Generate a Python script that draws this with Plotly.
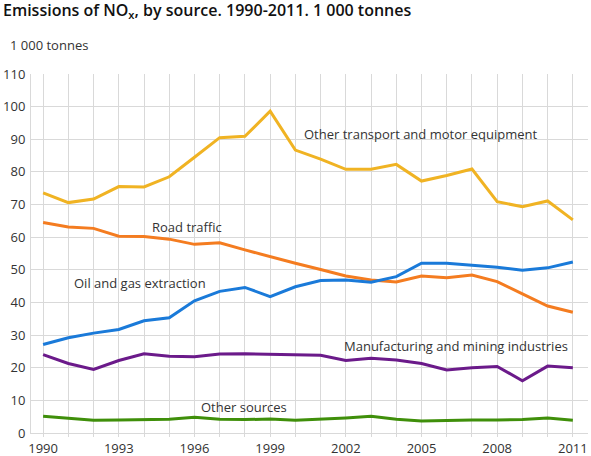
import plotly.graph_objects as go

years = list(range(1990, 2012))
other_transport = [73.6, 70.6, 71.7, 75.5, 75.4, 78.5, 84.5, 90.5, 90.9, 98.6, 86.7, 83.9,
                   80.8, 80.8, 82.3, 77.2, 78.9, 80.9, 70.9, 69.3, 71.1, 65.3]
road_traffic = [64.5, 63.1, 62.7, 60.3, 60.2, 59.4, 57.8, 58.3, 56.1, 54.0, 52.0, 50.1,
                48.1, 46.9, 46.3, 48.1, 47.6, 48.4, 46.4, 42.6, 38.9, 37.0]
oil_gas = [27.1, 29.2, 30.6, 31.7, 34.4, 35.3, 40.5, 43.4, 44.6, 41.8, 44.8, 46.7,
           46.9, 46.2, 47.9, 52.0, 52.0, 51.4, 50.8, 49.9, 50.6, 52.4]
manufacturing = [24.0, 21.3, 19.5, 22.2, 24.3, 23.5, 23.4, 24.2, 24.3, 24.2, 23.9, 23.8,
                 22.2, 22.9, 22.4, 21.3, 19.3, 20.0, 20.4, 16.0, 20.5, 20.0]
other_sources = [5.1, 4.5, 3.9, 4.0, 4.1, 4.2, 4.8, 4.2, 4.1, 4.3, 3.9, 4.2,
                 4.6, 5.1, 4.2, 3.7, 3.9, 4.0, 4.0, 4.1, 4.6, 3.9]

series_names = ["Other transport and motor equipment", "Road traffic", "Oil and gas extraction",
                "Manufacturing and mining industries", "Other sources"]
series_values = [other_transport, road_traffic, oil_gas, manufacturing, other_sources]
colors = ["#f0b323", "#f47c20", "#1a7ad9", "#6b1a8a", "#3f8f0a"]

label_pos = [(2000.26, 91.6), (1994.24, 63.2), (1991.14, 45.9), (2001.83, 26.7), (1996.18, 8.1)]

tick_years = years
tick_text = [str(y) if (y - 1990) % 3 == 0 else " " for y in years]
y_ticks = list(range(0, 111, 10))

fig = go.Figure()
for name, vals, col in zip(series_names, series_values, colors):
    fig.add_trace(go.Scatter(x=years, y=vals, mode="lines", name=name,
                             line=dict(color=col, width=3)))

for name, (lx, ly) in zip(series_names, label_pos):
    fig.add_annotation(x=lx, y=ly, text=name, showarrow=False, xanchor="left", yanchor="middle",
                       font=dict(family="Open Sans", size=13, color="#333333"))

fig.update_layout(
    width=591, height=456,
    margin=dict(l=31, r=3, t=74, b=23),
    paper_bgcolor="white", plot_bgcolor="white",
    showlegend=False,
    font=dict(family="Open Sans", size=13, color="#333333"),
    title=dict(text="Emissions of NO<sub>x</sub>, by source. 1990-2011. 1 000 tonnes",
               xref="container", yref="container",
               x=0.005, xanchor="left", y=0.977, yanchor="middle",
               font=dict(family="Open Sans", size=16, color="#111111", weight=600)),
    xaxis=dict(range=[1989.52, 2011.6], tickvals=tick_years, ticktext=tick_text,
               showgrid=True, gridcolor="#d9d9d9", gridwidth=1, zeroline=False,
               showline=True, linecolor="#d9d9d9", ticks="outside", ticklen=3, tickcolor="#d9d9d9",
               tickfont=dict(size=13, color="#333333"), automargin=False),
    yaxis=dict(range=[0, 110], tickvals=y_ticks, showgrid=True, gridcolor="#d9d9d9", gridwidth=1,
               zeroline=False, showline=True, linecolor="#d9d9d9",
               tickfont=dict(size=13, color="#333333"), ticklabelstandoff=2, automargin=False),
)
fig.add_annotation(xref="paper", yref="paper", x=-0.0413, y=1.0808, xanchor="left", yanchor="middle",
                   text="1 000 tonnes", showarrow=False,
                   font=dict(family="Open Sans", size=13, color="#333333"))

fig.write_html("out.html", config={"displayModeBar": False},
               post_script="document.body.style.margin='0';")
